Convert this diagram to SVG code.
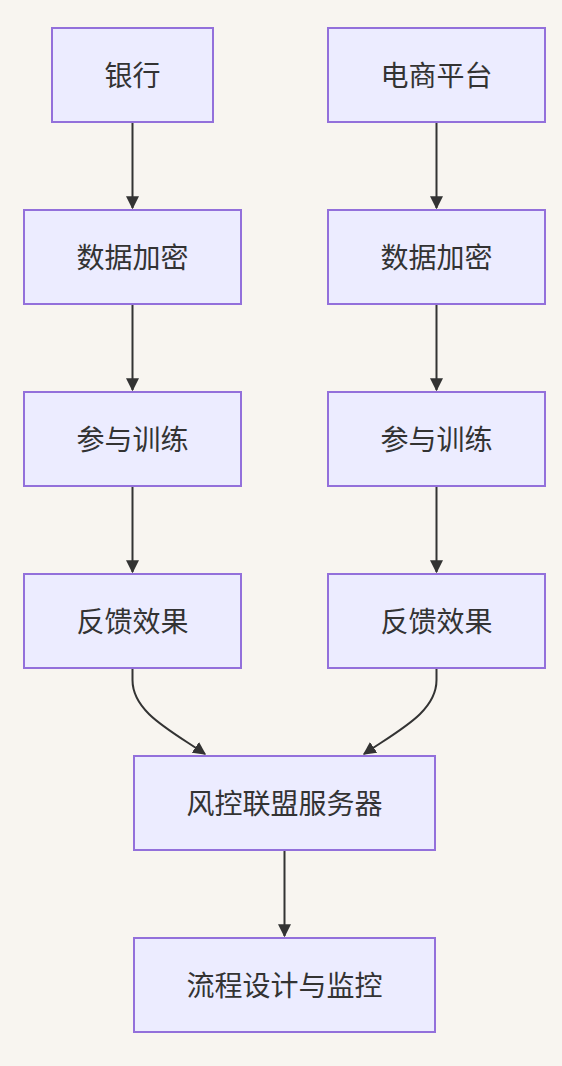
<svg xmlns="http://www.w3.org/2000/svg" width="562" height="1066" viewBox="0 0 562 1066">
<defs>
<marker id="arr" viewBox="0 0 10 10" refX="9" refY="5" markerWidth="13" markerHeight="13" markerUnits="userSpaceOnUse" orient="auto">
<path d="M0,0 L10,5 L0,10 z" fill="#333"/>
</marker>
<style>
.node rect{fill:#ECECFF;stroke:#9370DB;stroke-width:2}
.node text{font-family:"Noto Sans CJK SC","Noto Sans",sans-serif;font-size:28px;fill:#333;text-anchor:middle;dominant-baseline:central}
.edges path{fill:none;stroke:#333;stroke-width:2;marker-end:url(#arr)}
</style>
</defs>
<rect width="562" height="1066" fill="#F8F5F0"/>
<g class="edges">
<path d="M132.5,122 L132.5,208"/>
<path d="M436.5,122 L436.5,208"/>
<path d="M132.5,304 L132.5,390"/>
<path d="M436.5,304 L436.5,390"/>
<path d="M132.5,486 L132.5,572"/>
<path d="M436.5,486 L436.5,572"/>
<path d="M132.5,668 L132.5,680 C132.5,712 170,730 205,754"/>
<path d="M436.5,668 L436.5,680 C436.5,712 399,730 364,754"/>
<path d="M284.5,850 L284.5,936"/>
</g>
<g id="n1" class="node"><rect x="52" y="28" width="161" height="94"/><text x="132.5" y="73.5">银行</text></g>
<g id="n2" class="node"><rect x="328" y="28" width="217" height="94"/><text x="436.5" y="73.5">电商平台</text></g>
<g id="n3" class="node"><rect x="24" y="210" width="217" height="94"/><text x="132.5" y="255.5">数据加密</text></g>
<g id="n4" class="node"><rect x="328" y="210" width="217" height="94"/><text x="436.5" y="255.5">数据加密</text></g>
<g id="n5" class="node"><rect x="24" y="392" width="217" height="94"/><text x="132.5" y="437.5">参与训练</text></g>
<g id="n6" class="node"><rect x="328" y="392" width="217" height="94"/><text x="436.5" y="437.5">参与训练</text></g>
<g id="n7" class="node"><rect x="24" y="574" width="217" height="94"/><text x="132.5" y="619.5">反馈效果</text></g>
<g id="n8" class="node"><rect x="328" y="574" width="217" height="94"/><text x="436.5" y="619.5">反馈效果</text></g>
<g id="n9" class="node"><rect x="134" y="756" width="301" height="94"/><text x="284.5" y="801.5">风控联盟服务器</text></g>
<g id="n10" class="node"><rect x="134" y="938" width="301" height="94"/><text x="284.5" y="983.5">流程设计与监控</text></g>
</svg>
